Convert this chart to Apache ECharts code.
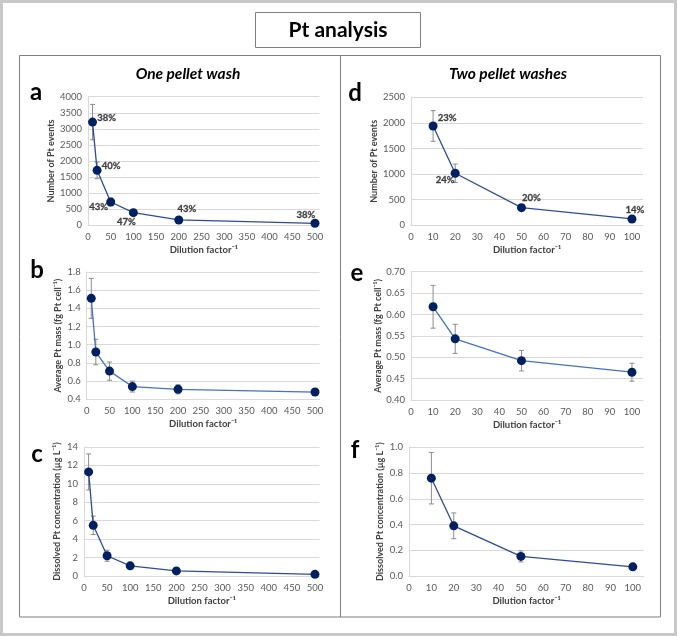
<!DOCTYPE html>
<html><head><meta charset="utf-8">
<script src="https://cdn.jsdelivr.net/npm/echarts@6/dist/echarts.min.js"></script>
<style>html,body{margin:0;padding:0;background:#fff}#c{width:677px;height:636px}</style>
</head><body><div id="c"></div>
<script>
// ---- data ----
const dilutionOne = [10, 20, 50, 100, 200, 500];
const dilutionTwo = [10, 20, 50, 100];
const eventsOne = [3210, 1710, 725, 394, 166, 62];
const eventsOneErr = [550, 260, 120, 40, 25, 15];
const eventsOnePct = ['38%', '40%', '43%', '47%', '43%', '38%'];
const massOne = [1.51, 0.92, 0.71, 0.54, 0.51, 0.48];
const massOneErr = [0.22, 0.14, 0.10, 0.06, 0.05, 0.035];
const dissolvedOne = [11.3, 5.5, 2.2, 1.1, 0.55, 0.18];
const dissolvedOneErr = [1.95, 1.0, 0.6, 0.25, 0.12, 0.08];
const eventsTwo = [1940, 1016, 345, 124];
const eventsTwoErr = [300, 180, 55, 20];
const eventsTwoPct = ['23%', '24%', '20%', '14%'];
const massTwo = [0.618, 0.543, 0.492, 0.465];
const massTwoErr = [0.05, 0.034, 0.024, 0.021];
const dissolvedTwo = [0.76, 0.39, 0.152, 0.071];
const dissolvedTwoErr = [0.2, 0.1, 0.043, 0.012];
const xTitle = 'Dilution factor\u207B\u00B9';
const yTitles = ['Number of Pt events', 'Average Pt mass (fg Pt cell\u207B\u00B9)', 'Dissolved Pt concentration (\u00B5g L\u207B\u00B9)'];

// ---- layout / style ----
const FONT = 'Lato, "Open Sans", sans-serif';
const DARK = '#2F4B9B', LIGHT = '#4472C4', MARK = '#002060';
const panels = [
  {x: dilutionOne, y: eventsOne, err: eventsOneErr, pct: eventsOnePct,
   off: [[14,-4],[14,-4],[-12,5],[-7,9],[8,-11],[-9,-8]],
   grid: {left: 88, top: 96.7, width: 231.5, height: 128.6}, xMax: 510, xInt: 50, xLim: 500,
   yMin: 0, yMax: 4000, yInt: 500, dec: 0, name: yTitles[0], gap: 31, line: DARK},
  {x: dilutionOne, y: massOne, err: massOneErr,
   grid: {left: 86.7, top: 272, width: 232.9, height: 127.3}, xMax: 510, xInt: 50, xLim: 500,
   yMin: 0.4, yMax: 1.8, yInt: 0.2, dec: 1, name: yTitles[1], gap: 24, line: LIGHT},
  {x: dilutionOne, y: dissolvedOne, err: dissolvedOneErr,
   grid: {left: 84, top: 447, width: 235.6, height: 129}, xMax: 510, xInt: 50, xLim: 500,
   yMin: 0, yMax: 14, yInt: 2, dec: 0, name: yTitles[2], gap: 22, line: DARK},
  {x: dilutionTwo, y: eventsTwo, err: eventsTwoErr, pct: eventsTwoPct,
   off: [[14,-8],[-10,7],[10,-10],[3,-9]],
   grid: {left: 411, top: 97.3, width: 232, height: 128}, xMax: 105, xInt: 10, xLim: 100,
   yMin: 0, yMax: 2500, yInt: 500, dec: 0, name: yTitles[0], gap: 30, line: DARK},
  {x: dilutionTwo, y: massTwo, err: massTwoErr,
   grid: {left: 411, top: 271.7, width: 232, height: 128.3}, xMax: 105, xInt: 10, xLim: 100,
   yMin: 0.4, yMax: 0.7, yInt: 0.05, dec: 2, name: yTitles[1], gap: 28, line: LIGHT},
  {x: dilutionTwo, y: dissolvedTwo, err: dissolvedTwoErr,
   grid: {left: 409, top: 447.3, width: 235, height: 128.7}, xMax: 105, xInt: 10, xLim: 100,
   yMin: 0, yMax: 1.0, yInt: 0.2, dec: 1, name: yTitles[2], gap: 24, line: DARK}
];

const grids = [], xAxes = [], yAxes = [], series = [];
panels.forEach((p, i) => {
  grids.push(Object.assign({containLabel: false}, p.grid));
  xAxes.push({
    type: 'value', gridIndex: i, min: 0, max: p.xMax, interval: p.xInt,
    name: xTitle, nameLocation: 'middle', nameGap: 20,
    nameTextStyle: {fontFamily: FONT, fontWeight: 'bold', fontSize: 9.5, color: '#404040'},
    axisLine: {show: true, lineStyle: {color: '#d9d9d9'}}, axisTick: {show: false},
    splitLine: {show: false},
    axisLabel: {fontFamily: FONT, fontSize: 9.5, color: '#595959', margin: 7,
      formatter: v => v > p.xLim ? '' : String(v)}
  });
  yAxes.push({
    type: 'value', gridIndex: i, min: p.yMin, max: p.yMax, interval: p.yInt,
    name: p.name, nameLocation: 'middle', nameGap: p.gap, nameRotate: 90,
    nameTextStyle: {fontFamily: FONT, fontWeight: 'bold', fontSize: 9, color: '#404040'},
    axisLine: {show: true, lineStyle: {color: '#d9d9d9'}}, axisTick: {show: false},
    splitLine: {show: true, lineStyle: {color: '#d9d9d9', width: 1}},
    axisLabel: {fontFamily: FONT, fontSize: 9.5, color: '#595959', margin: 6,
      formatter: v => Number(v).toFixed(p.dec)}
  });
  series.push({
    type: 'custom', xAxisIndex: i, yAxisIndex: i, z: 1, silent: true,
    data: p.x.map((xv, k) => [xv, p.y[k], p.err[k]]),
    renderItem: (params, api) => {
      const xv = api.value(0), yv = api.value(1), e = api.value(2);
      const t = api.coord([xv, yv + e]), b = api.coord([xv, yv - e]);
      const w = 2.5, st = {stroke: '#8c8c8c', lineWidth: 1};
      return {type: 'group', children: [
        {type: 'line', shape: {x1: t[0], y1: t[1], x2: b[0], y2: b[1]}, style: st},
        {type: 'line', shape: {x1: t[0] - w, y1: t[1], x2: t[0] + w, y2: t[1]}, style: st},
        {type: 'line', shape: {x1: b[0] - w, y1: b[1], x2: b[0] + w, y2: b[1]}, style: st}
      ]};
    }
  });
  series.push({
    type: 'line', xAxisIndex: i, yAxisIndex: i, z: 3, silent: true,
    data: p.x.map((xv, k) => [xv, p.y[k]]),
    symbol: 'circle', symbolSize: 9, showAllSymbol: true,
    itemStyle: {color: MARK, borderWidth: 0},
    lineStyle: {color: p.line, width: 1.3}
  });
  if (p.pct) {
    series.push({
      type: 'scatter', xAxisIndex: i, yAxisIndex: i, z: 5, silent: true, symbolSize: 1,
      itemStyle: {color: 'rgba(0,0,0,0)'},
      label: {show: true, position: 'inside', fontFamily: FONT, fontWeight: 'bold',
        fontSize: 9.5, color: '#1a1a1a', textBorderColor: '#1a1a1a', textBorderWidth: 0.3,
        formatter: prm => p.pct[prm.dataIndex]},
      data: p.x.map((xv, k) => ({value: [xv, p.y[k]], label: {offset: p.off[k]}}))
    });
  }
});

const letterStyle = {fontFamily: FONT, fontWeight: 'bold', fontSize: 24, fill: '#000', textAlign: 'center', textVerticalAlign: 'middle'};
const graphic = [
  {type: 'rect', shape: {x: 1.5, y: 1.5, width: 674, height: 633}, style: {fill: 'none', stroke: '#c8c8c8', lineWidth: 3}, z: 100},
  {type: 'rect', shape: {x: 255.5, y: 12.5, width: 165, height: 35}, style: {fill: '#fff', stroke: '#7f7f7f', lineWidth: 1}},
  {type: 'text', x: 338, y: 30, style: {text: 'Pt analysis', fontFamily: FONT, fontWeight: 'bold', fontSize: 21, fill: '#000', textAlign: 'center', textVerticalAlign: 'middle'}},
  {type: 'rect', shape: {x: 19.5, y: 55.5, width: 641, height: 561.5}, style: {fill: 'none', stroke: '#7f7f7f', lineWidth: 1}},
  {type: 'line', shape: {x1: 340.5, y1: 55.5, x2: 340.5, y2: 617}, style: {stroke: '#7f7f7f', lineWidth: 1}},
  {type: 'text', x: 188, y: 74, style: {text: 'One pellet wash', fontFamily: FONT, fontWeight: 'bold', fontStyle: 'italic', fontSize: 15.5, fill: '#000', textAlign: 'center', textVerticalAlign: 'middle'}},
  {type: 'text', x: 508, y: 74, style: {text: 'Two pellet washes', fontFamily: FONT, fontWeight: 'bold', fontStyle: 'italic', fontSize: 15.5, fill: '#000', textAlign: 'center', textVerticalAlign: 'middle'}},
  {type: 'text', x: 36, y: 92, style: Object.assign({text: 'a'}, letterStyle)},
  {type: 'text', x: 37, y: 270, style: Object.assign({text: 'b'}, letterStyle)},
  {type: 'text', x: 37, y: 454, style: Object.assign({text: 'c'}, letterStyle)},
  {type: 'text', x: 355, y: 93, style: Object.assign({text: 'd'}, letterStyle)},
  {type: 'text', x: 357, y: 273, style: Object.assign({text: 'e'}, letterStyle)},
  {type: 'text', x: 355, y: 450, style: Object.assign({text: 'f'}, letterStyle)}
];

const chart = echarts.init(document.getElementById('c'), null, {renderer: 'canvas'});
chart.setOption({
  backgroundColor: '#fff', animation: false,
  grid: grids, xAxis: xAxes, yAxis: yAxes, series: series, graphic: graphic
});
</script></body></html>
